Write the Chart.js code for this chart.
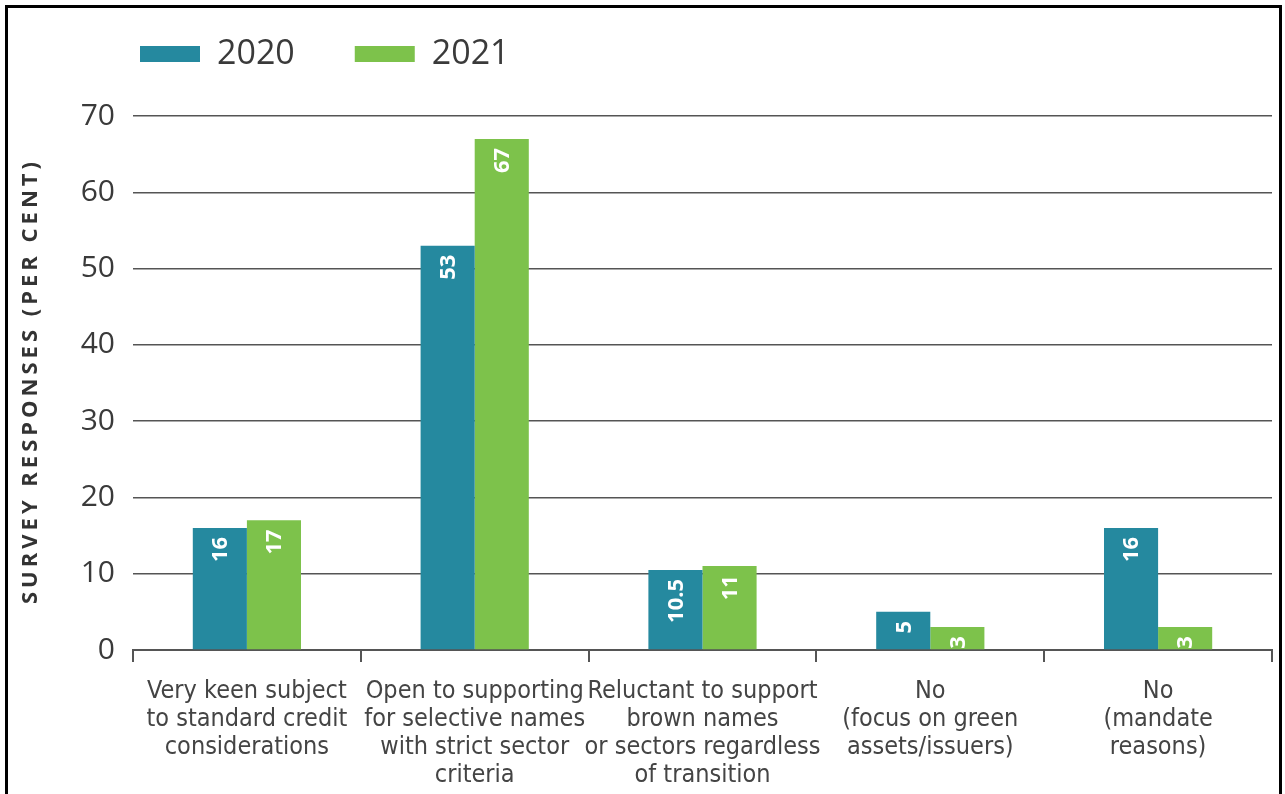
<!DOCTYPE html>
<html>
<head>
<meta charset="utf-8">
<script src="https://cdn.jsdelivr.net/npm/chart.js@4/dist/chart.umd.min.js"></script>
<style>
  html, body { margin: 0; padding: 0; background: #fff; }
  #wrap { position: relative; width: 1285px; height: 794px; overflow: hidden; background: #fff; }
  #wrap canvas { position: absolute; left: 0; top: 0; }
  #frame { position: absolute; left: 5px; top: 5px; width: 1277px; height: 830px;
           border: 3px solid #000; box-sizing: border-box; pointer-events: none; }
</style>
</head>
<body>
<div id="wrap">
  <canvas id="chart" width="1285" height="794"></canvas>
  <div id="frame"></div>
</div>
<script>
// Survey categories (multi-line axis labels)
const categories = [
  ["Very keen subject", "to standard credit", "considerations"],
  ["Open to supporting", "for selective names", "with strict sector", "criteria"],
  ["Reluctant to support", "brown names", "or sectors regardless", "of transition"],
  ["No", "(focus on green", "assets/issuers)"],
  ["No", "(mandate", "reasons)"]
];
const seriesNames = ["2020", "2021"];
const values2020 = [16, 53, 10.5, 5, 16];
const values2021 = [17, 67, 11, 3, 3];
const yMin = 0;
const yMax = 70;
const yStep = 10;
const yAxisTitle = "SURVEY RESPONSES (PER CENT)";

const TEAL = "#25899f";
const GREEN = "#7dc24b";
const GRID = "#555555";
const TEXT = "#3a3a3a";

// White rotated value labels inside the top of each bar, clipped to the plot area
const valueLabels = {
  id: "valueLabels",
  afterDatasetsDraw(chart) {
    const ctx = chart.ctx;
    const a = chart.chartArea;
    ctx.save();
    ctx.beginPath();
    ctx.rect(a.left, a.top, a.right - a.left, a.bottom - a.top);
    ctx.clip();
    ctx.fillStyle = "#ffffff";
    ctx.font = 'bold 22px "Open Sans"';
    ctx.textAlign = "right";
    ctx.textBaseline = "middle";
    chart.data.datasets.forEach((ds, i) => {
      chart.getDatasetMeta(i).data.forEach((bar, j) => {
        ctx.save();
        ctx.translate(bar.x, bar.y + 9);
        ctx.rotate(-Math.PI / 2);
        ctx.fillText(String(ds.data[j]), 0, 1);
        ctx.restore();
      });
    });
    ctx.restore();
  }
};

// Letter-spaced vertical axis title
const yTitle = {
  id: "yTitle",
  afterDraw(chart) {
    const ctx = chart.ctx;
    const a = chart.chartArea;
    ctx.save();
    ctx.translate(31, (a.top + a.bottom) / 2);
    ctx.rotate(-Math.PI / 2);
    ctx.font = 'bold 22px "Open Sans"';
    if ("letterSpacing" in ctx) ctx.letterSpacing = "4px";
    ctx.fillStyle = "#333333";
    ctx.textAlign = "center";
    ctx.textBaseline = "middle";
    ctx.fillText(yAxisTitle, 2, 0);
    ctx.restore();
  }
};

// Fixed legend band height and placement above the plot
const legendPlacement = {
  id: "legendPlacement",
  beforeLayout(chart) {
    const lg = chart.legend;
    if (lg && !lg._fixedFit) {
      const fit = lg.fit.bind(lg);
      lg.fit = function () { fit(); this.height = 106; };
      lg._fixedFit = true;
    }
  },
  afterLayout(chart) {
    const lg = chart.legend;
    if (lg) { lg.left = 80; lg.top = -23; }
  }
};

new Chart(document.getElementById("chart"), {
  type: "bar",
  data: {
    labels: categories,
    datasets: [
      { label: seriesNames[0], data: values2020, backgroundColor: TEAL, borderWidth: 0 },
      { label: seriesNames[1], data: values2021, backgroundColor: GREEN, borderWidth: 0 }
    ]
  },
  options: {
    responsive: false,
    devicePixelRatio: 1,
    animation: false,
    layout: { padding: { top: 10, left: 0, right: 13, bottom: 0 } },
    datasets: { bar: { categoryPercentage: 0.475, barPercentage: 1.0 } },
    plugins: {
      legend: {
        display: true,
        position: "top",
        align: "start",
        labels: {
          boxWidth: 60,
          boxHeight: 16,
          padding: 60,
          color: TEXT,
          font: { family: '"Open Sans"', size: 34 }
        }
      },
      tooltip: { enabled: false }
    },
    scales: {
      x: {
        offset: true,
        grid: { offset: true, drawOnChartArea: false, drawTicks: true, tickLength: 12, color: GRID, lineWidth: 2 },
        border: { display: true, color: GRID, width: 2 },
        ticks: {
          color: "#444444",
          padding: 15,
          maxRotation: 0,
          autoSkip: false,
          font: { family: '"DejaVu Sans Condensed", "Liberation Sans Narrow", sans-serif', size: 25, lineHeight: 1.13 }
        },
        afterFit(scale) { scale.height = 144; }
      },
      y: {
        min: yMin,
        max: yMax,
        ticks: {
          stepSize: yStep,
          padding: 18,
          color: TEXT,
          font: { family: '"Open Sans"', size: 30 }
        },
        grid: { drawTicks: false, color: GRID, lineWidth: 1.5 },
        border: { display: false },
        afterFit(scale) { scale.width = 133; }
      }
    }
  },
  plugins: [valueLabels, yTitle, legendPlacement]
});
</script>
</body>
</html>
